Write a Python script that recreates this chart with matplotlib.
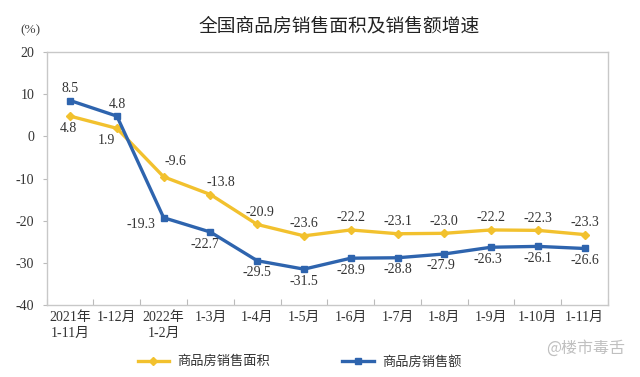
import matplotlib
matplotlib.use("Agg")
import matplotlib.pyplot as plt
from matplotlib.lines import Line2D

categories = ["2021年\n1-11月", "1-12月", "2022年\n1-2月", "1-3月", "1-4月", "1-5月",
              "1-6月", "1-7月", "1-8月", "1-9月", "1-10月", "1-11月"]
area = [4.8, 1.9, -9.6, -13.8, -20.9, -23.6, -22.2, -23.1, -23.0, -22.2, -22.3, -23.3]
sales = [8.5, 4.8, -19.3, -22.7, -29.5, -31.5, -28.9, -28.8, -27.9, -26.3, -26.1, -26.6]
yticks = [20, 10, 0, -10, -20, -30, -40]

FAM = ['Liberation Serif', 'Noto Sans CJK SC']
plt.rcParams['font.family'] = FAM

YEL = '#F2C12E'
BLU = '#2E64AE'

fig = plt.figure(figsize=(6.4, 3.77), dpi=100)
ax = fig.add_axes([0.073, 0.191, 0.877, 0.671])

x = list(range(len(categories)))
ax.plot(x, area, color=YEL, lw=2.4, marker='D', ms=4.5, zorder=3)
ax.plot(x, sales, color=BLU, lw=2.4, marker='s', ms=4.5, zorder=4)

ax.set_xlim(-0.5, len(categories) - 0.5)
ax.set_ylim(-40, 20)
ax.set_yticks(yticks)
ax.set_yticklabels([str(v) for v in yticks], fontsize=10, color='#333333')
ax.set_xticks([i - 0.5 for i in range(len(categories) + 1)])
ax.set_xticklabels([])
ax.tick_params(axis='x', direction='in', length=4, color='#bbbbbb')
ax.tick_params(axis='y', length=3, color='#bbbbbb', pad=6)
for s in ax.spines.values():
    s.set_color('#c8c8c8')
    s.set_linewidth(1.0)

for i, c in enumerate(categories):
    ax.text(i, -41.5, c, ha='center', va='top', fontsize=10, color='#333333',
            linespacing=1.3)

# data label offsets in pixels
area_off = [(-2, -12), (-10, -12), (12, 15), (10, 12), (3, 12), (0, 12),
            (0, 12), (0, 12), (0, 12), (0, 12), (0, 12), (0, 12)]
sales_off = [(0, 12), (0, 12), (-23, -7), (-5, -12), (0, -12), (0, -12),
             (0, -12), (0, -12), (-3, -12), (-3, -12), (0, -12), (0, -12)]
for i, v in enumerate(area):
    dx, dy = area_off[i]
    ax.annotate(f"{v:.1f}", (i, v), xytext=(dx, dy), textcoords='offset pixels',
                ha='center', va='center', fontsize=10, color='#333333')
for i, v in enumerate(sales):
    dx, dy = sales_off[i]
    ax.annotate(f"{v:.1f}", (i, v), xytext=(dx, dy), textcoords='offset pixels',
                ha='center', va='center', fontsize=10, color='#333333')

fig.text(0.53, 0.93, "全国商品房销售面积及销售额增速", ha='center', va='center',
         fontsize=13.5, color='#222222', family=['Noto Sans CJK SC'])
fig.text(0.047, 0.92, "(%)", ha='center', va='center', fontsize=9.5, color='#444444')

# legend
h1 = Line2D([], [], color=YEL, lw=2.4, marker='D', ms=4)
h2 = Line2D([], [], color=BLU, lw=2.4, marker='s', ms=4)
fig.legend([h1, h2], ["商品房销售面积", "商品房销售额"], loc='center',
           bbox_to_anchor=(0.468, 0.04), ncol=2, frameon=False, fontsize=9.5,
           handlelength=2.4, handletextpad=0.6, columnspacing=5.5,
           labelcolor='#333333')

fig.text(0.915, 0.075, "@楼市毒舌", ha='center', va='center', fontsize=11.5,
         color='#c0c0c0', family=['Noto Sans CJK SC'])

fig.savefig("out.png", dpi=100)
